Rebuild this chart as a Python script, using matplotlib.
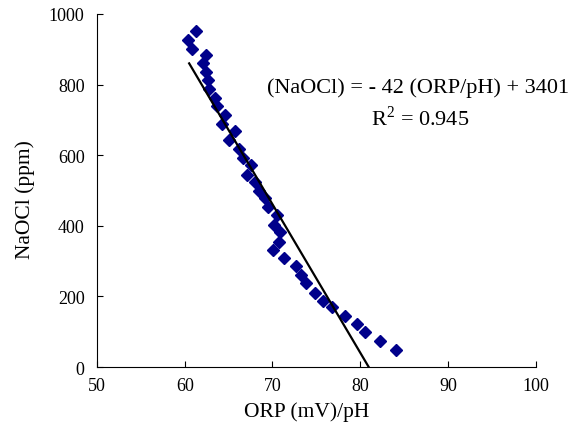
import matplotlib
matplotlib.use("Agg")
import matplotlib.pyplot as plt
import numpy as np

plt.rcParams['font.family'] = ['Liberation Serif', 'DejaVu Serif']
plt.rcParams['mathtext.fontset'] = 'custom'
plt.rcParams['mathtext.rm'] = 'Liberation Serif'

# datos
orp_ph = [60.4, 61.3, 60.8, 62.4, 62.1, 62.4, 62.7, 62.8, 63.5, 63.7,
          64.6, 64.2, 65.0, 65.7, 66.2, 66.6, 67.5, 67.1, 68.0, 68.5,
          69.2, 69.5, 70.5, 70.2, 70.9, 70.7, 70.1, 71.3, 72.7, 73.3,
          73.8, 74.8, 75.8, 76.8, 78.3, 79.6, 80.6, 82.3, 84.1]
naocl = [926, 951, 902, 883, 860, 836, 812, 787, 763, 740,
         715, 689, 642, 668, 618, 593, 571, 545, 524, 500,
         478, 453, 431, 402, 382, 355, 332, 308, 285, 260,
         237, 211, 188, 169, 145, 121, 98, 74, 47]

# recta de ajuste
pendiente = -42
ordenada = 3401
x_fit = np.array([60.5, -ordenada / pendiente])
y_fit = pendiente * x_fit + ordenada

fig = plt.figure(figsize=(5.71, 4.27), dpi=100)
ax = fig.add_axes([0.170, 0.138, 0.768, 0.827])

ax.plot(orp_ph, naocl, linestyle='none', marker='D', markersize=5.8,
        color='#00008B')
ax.plot(x_fit, y_fit, color='black', linewidth=1.6)

ax.set_xlim(50, 100)
ax.set_ylim(0, 1000)
ax.set_xticks(np.arange(50, 101, 10))
ax.set_yticks(np.arange(0, 1001, 200))
ax.spines['top'].set_visible(False)
ax.spines['right'].set_visible(False)
ax.tick_params(direction='in', length=4, labelsize=13)
ax.tick_params(axis='y', pad=9)
ax.tick_params(axis='x', pad=7)

ax.set_xlabel('ORP (mV)/pH', fontsize=15.5)
ax.set_ylabel('NaOCl (ppm)', fontsize=15.5)
ax.xaxis.set_label_coords(0.479, -0.096)
ax.yaxis.set_label_coords(-0.141, 0.476)

ax.text(0.732, 0.793, '(NaOCl) = - 42 (ORP/pH) + 3401', transform=ax.transAxes,
        ha='center', va='center', fontsize=16)
ax.text(0.737, 0.708, r'R$^\mathrm{2}$ = 0.945', transform=ax.transAxes,
        ha='center', va='center', fontsize=16)

fig.savefig('out.png', dpi=100)
